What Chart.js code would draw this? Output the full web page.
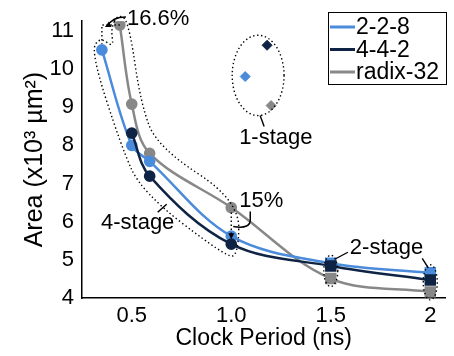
<!DOCTYPE html>
<html>
<head>
<meta charset="utf-8">
<script src="https://cdn.jsdelivr.net/npm/chart.js@4.4.0/dist/chart.umd.min.js"></script>
<style>
  html, body { margin: 0; padding: 0; background: #fff; }
  canvas { display: block; }
</style>
</head>
<body>
<canvas id="chart" width="454" height="356"></canvas>
<script>
// clock period (ns) and area (x10^3 um^2) per design
const period228 = [0.35, 0.5, 0.59, 1.0, 1.5, 2.0];
const area228 = [10.5, 8.0, 7.58, 5.62, 4.91, 4.66];
const stage228 = [4, 4, 4, 4, 2, 2];

const period442 = [0.5, 0.59, 1.0, 1.5, 2.0];
const area442 = [8.32, 7.19, 5.41, 4.84, 4.47];
const stage442 = [4, 4, 4, 2, 2];

const periodRadix = [0.44, 0.5, 0.59, 1.0, 1.5, 2.0];
const areaRadix = [11.15, 9.08, 7.79, 6.37, 4.51, 4.16];
const stageRadix = [4, 4, 4, 4, 2, 2];

// 1-stage designs: 2-2-8, 4-4-2, radix-32
const oneStagePeriod = [1.07, 1.18, 1.2];
const oneStageArea = [9.8, 10.62, 9.04];

const xTicks = [0.5, 1.0, 1.5, 2];
const yTicks = [4, 5, 6, 7, 8, 9, 10, 11];

const names = ['2-2-8', '4-4-2', 'radix-32'];
const colors = ['#4a8bdb', '#0f2444', '#888888'];
const FONT = "'Liberation Sans', Arial, sans-serif";

const pts = (xs, ys) => xs.map((v, i) => ({ x: v, y: ys[i] }));
const styleOf = st => st.map(s => (s === 4 ? 'circle' : 'rect'));
const radiusOf = st => st.map(s => (s === 4 ? 4.6 : 6.3));

function lineSet(label, xs, ys, st, color, order) {
    return {
        label: label,
        data: pts(xs, ys),
        borderColor: color,
        backgroundColor: color,
        pointBackgroundColor: color,
        pointBorderColor: color,
        borderWidth: 2.5,
        pointStyle: styleOf(st),
        pointRadius: radiusOf(st),
        tension: 0.35,
        order: order,
    };
}

function smoothClosed(ctx, p) {
    const n = p.length;
    const mid = (a, b) => ({ x: (a.x + b.x) / 2, y: (a.y + b.y) / 2 });
    const m0 = mid(p[n - 1], p[0]);
    ctx.beginPath();
    ctx.moveTo(m0.x, m0.y);
    for (let i = 0; i < n; i++) {
        const m = mid(p[i], p[(i + 1) % n]);
        ctx.quadraticCurveTo(p[i].x, p[i].y, m.x, m.y);
    }
    ctx.closePath();
    ctx.stroke();
}

function arrowHead(ctx, x, y, ang) {
    ctx.save();
    ctx.setLineDash([]);
    ctx.translate(x, y);
    ctx.rotate(ang);
    ctx.beginPath();
    ctx.moveTo(0, 0);
    ctx.lineTo(-6, -3);
    ctx.lineTo(-6, 3);
    ctx.closePath();
    ctx.fill();
    ctx.restore();
}

const annotate = {
    id: 'annotate',
    afterDatasetsDraw(chart) {
        const { ctx, scales } = chart;
        const P = (px, py) => ({ x: scales.x.getPixelForValue(px), y: scales.y.getPixelForValue(py) });
        const b = period228.map((v, i) => P(v, area228[i]));
        const d = period442.map((v, i) => P(v, area442[i]));
        const g = periodRadix.map((v, i) => P(v, areaRadix[i]));
        const o = oneStagePeriod.map((v, i) => P(v, oneStageArea[i]));

        ctx.save();
        ctx.strokeStyle = '#000';
        ctx.fillStyle = '#000';
        ctx.lineWidth = 1.4;
        ctx.setLineDash([1.4, 2.6]);
        ctx.font = '22px ' + FONT;
        ctx.textBaseline = 'middle';

        // 4-stage outline
        smoothClosed(ctx, [
            { x: g[0].x - 2, y: g[0].y - 11 },
            { x: g[0].x + 9, y: g[0].y - 4 },
            { x: g[1].x + 9, y: g[1].y },
            { x: g[2].x + 8, y: g[2].y - 6 },
            { x: g[3].x + 8, y: g[3].y - 7 },
            { x: g[3].x + 7, y: d[2].y + 12 },
            { x: d[2].x - 6, y: d[2].y + 12 },
            { x: d[1].x - 8, y: d[1].y + 16 },
            { x: d[0].x - 11, y: d[0].y + 12 },
            { x: b[0].x - 11, y: b[0].y + 2 },
            { x: b[0].x - 2, y: b[0].y - 13 },
            { x: b[0].x + 12, y: b[0].y - 2 },
            { x: g[0].x - 9, y: g[0].y + 4 },
        ]);

        // 16.6% marker
        ctx.beginPath();
        ctx.moveTo(g[0].x, g[0].y);
        ctx.lineTo(b[0].x, g[0].y);
        ctx.lineTo(b[0].x, b[0].y - 6);
        ctx.stroke();
        ctx.setLineDash([]);
        ctx.lineWidth = 1.5;
        ctx.beginPath();
        ctx.moveTo(b[0].x + 6, g[0].y + 1);
        ctx.quadraticCurveTo(b[0].x + 10, g[0].y - 8, b[0].x + 24, g[0].y - 8);
        ctx.stroke();
        arrowHead(ctx, b[0].x + 3, g[0].y + 2, Math.PI * 0.85);
        ctx.textAlign = 'left';
        ctx.fillText('16.6%', b[0].x + 25, g[0].y - 6);

        // 15% marker
        ctx.setLineDash([1.4, 2.6]);
        ctx.lineWidth = 1.4;
        ctx.beginPath();
        ctx.moveTo(g[3].x, g[3].y + 5);
        ctx.lineTo(g[3].x, d[2].y - 8);
        ctx.stroke();
        arrowHead(ctx, g[3].x, d[2].y - 5, Math.PI / 2);
        ctx.setLineDash([]);
        ctx.lineWidth = 1.5;
        ctx.beginPath();
        ctx.moveTo(g[3].x + 2, g[3].y + 19);
        ctx.quadraticCurveTo(g[3].x + 20, g[3].y + 22, g[3].x + 19, g[3].y + 11);
        ctx.lineTo(g[3].x + 19, g[3].y + 4);
        ctx.stroke();
        ctx.fillText('15%', g[3].x + 8, g[3].y - 7);

        // 4-stage label
        ctx.beginPath();
        ctx.moveTo(d[1].x + 8, d[1].y + 36);
        ctx.lineTo(d[1].x + 17, d[1].y + 28);
        ctx.stroke();
        ctx.textAlign = 'center';
        ctx.fillText('4-stage', d[1].x - 12, d[1].y + 47);

        // 1-stage ellipse
        const ox = o.map(p => p.x), oy = o.map(p => p.y);
        const ecx = (Math.min(...ox) + Math.max(...ox)) / 2;
        const ecy = (Math.min(...oy) + Math.max(...oy)) / 2;
        const erx = (Math.max(...ox) - Math.min(...ox)) / 2 + 13;
        const ery = (Math.max(...oy) - Math.min(...oy)) / 2 + 10;
        ctx.setLineDash([1.4, 2.6]);
        ctx.lineWidth = 1.4;
        ctx.beginPath();
        ctx.ellipse(ecx, ecy, erx, ery, 0, 0, Math.PI * 2);
        ctx.stroke();
        ctx.setLineDash([]);
        ctx.beginPath();
        ctx.moveTo(ecx + 2, ecy + ery);
        ctx.lineTo(ecx + 6, ecy + ery + 11);
        ctx.stroke();
        ctx.textAlign = 'left';
        ctx.fillText('1-stage', ecx - 19, ecy + ery + 22);

        // 2-stage groups
        const groups = [
            [b[4], d[3], g[4]],
            [b[5], d[4], g[5]],
        ];
        const ells = groups.map(gr => {
            const ys = gr.map(p => p.y);
            const top = Math.min(...ys), bot = Math.max(...ys);
            return { cx: gr[0].x, cy: (top + bot) / 2, rx: 7, ry: (bot - top) / 2 + 8 };
        });
        ctx.setLineDash([1.4, 2.6]);
        ells.forEach(e => {
            ctx.beginPath();
            ctx.ellipse(e.cx, e.cy, e.rx, e.ry, 0, 0, Math.PI * 2);
            ctx.stroke();
        });
        ctx.setLineDash([]);
        const lx = (ells[0].cx + ells[1].cx) / 2 + 6;
        const ly = ells[0].cy - ells[0].ry - 7;
        ctx.textAlign = 'center';
        ctx.fillText('2-stage', lx, ly);
        const tw = ctx.measureText('2-stage').width;
        ctx.beginPath();
        ctx.moveTo(ells[0].cx + 4, ells[0].cy - ells[0].ry + 4);
        ctx.lineTo(lx - tw / 2 - 2, ly + 4);
        ctx.moveTo(lx + tw / 2 - 1, ly + 10);
        ctx.lineTo(ells[1].cx - 2, ells[1].cy - ells[1].ry + 3);
        ctx.stroke();

        ctx.restore();
    },
    afterDraw(chart) {
        // boxed legend, top right
        const { ctx } = chart;
        const right = chart.width - 8, top = 12, w = 118, h = 72;
        const left = right - w;
        ctx.save();
        ctx.fillStyle = '#fff';
        ctx.fillRect(left, top, w, h);
        ctx.strokeStyle = '#000';
        ctx.lineWidth = 1;
        ctx.strokeRect(left + 0.5, top + 0.5, w, h);
        ctx.font = '23px ' + FONT;
        ctx.textBaseline = 'middle';
        ctx.textAlign = 'left';
        names.forEach((n, i) => {
            const cy = top + 15 + i * 22.5;
            ctx.strokeStyle = colors[i];
            ctx.lineWidth = 3;
            ctx.beginPath();
            ctx.moveTo(left + 2, cy);
            ctx.lineTo(left + 27, cy);
            ctx.stroke();
            ctx.fillStyle = '#000';
            ctx.fillText(n, left + 28, cy + 1);
        });
        ctx.restore();
    },
};

new Chart(document.getElementById('chart'), {
    type: 'line',
    data: {
        datasets: [
            lineSet(names[0], period228, area228, stage228, colors[0], 1),
            lineSet(names[1], period442, area442, stage442, colors[1], 0),
            lineSet(names[2], periodRadix, areaRadix, stageRadix, colors[2], 2),
            {
                label: '1-stage',
                data: pts(oneStagePeriod, oneStageArea),
                showLine: false,
                pointStyle: 'rectRot',
                pointRadius: 5,
                pointBackgroundColor: colors,
                pointBorderColor: colors,
                order: 3,
            },
        ],
    },
    options: {
        responsive: false,
        devicePixelRatio: 1,
        animation: false,
        layout: { padding: { top: 20, right: 4, left: 0, bottom: 0 } },
        plugins: {
            legend: { display: false },
            tooltip: { enabled: false },
        },
        scales: {
            x: {
                type: 'linear',
                min: 0.25,
                max: 2.075,
                grid: { display: false, drawTicks: false },
                border: { display: true, color: '#000', width: 1.5 },
                afterBuildTicks: s => { s.ticks = xTicks.map(v => ({ value: v })); },
                afterFit: s => { s.height = 58; },
                ticks: {
                    color: '#000',
                    padding: 5,
                    font: { family: FONT, size: 22 },
                    callback: v => (v === 2 ? '2' : v.toFixed(1)),
                },
                title: {
                    display: true,
                    text: 'Clock Period (ns)',
                    color: '#000',
                    font: { family: FONT, size: 23 },
                    padding: { top: 0, bottom: 4 },
                },
            },
            y: {
                min: 4,
                max: 11.25,
                grid: { display: false, drawTicks: false },
                border: { display: true, color: '#000', width: 1.5 },
                afterBuildTicks: s => { s.ticks = yTicks.map(v => ({ value: v })); },
                afterFit: s => { s.width = 82; },
                ticks: {
                    color: '#000',
                    padding: 8,
                    font: { family: FONT, size: 22 },
                },
                title: {
                    display: true,
                    text: 'Area (x10³ µm²)',
                    color: '#000',
                    font: { family: FONT, size: 25 },
                    padding: { top: 20, bottom: 0 },
                },
            },
        },
    },
    plugins: [annotate],
});
</script>
</body>
</html>
